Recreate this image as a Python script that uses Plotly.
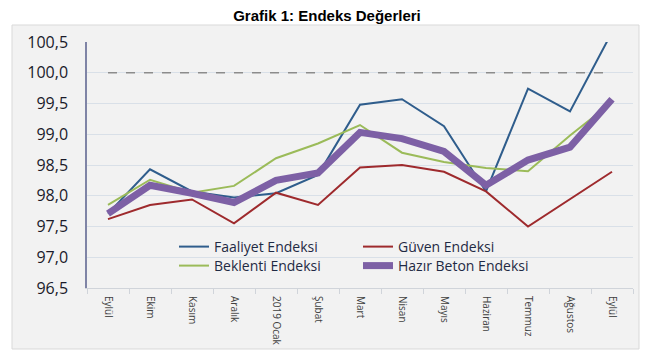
import plotly.graph_objects as go

categories = ["Eylül", "Ekim", "Kasım", "Aralık", "2019 Ocak", "Şubat", "Mart",
              "Nisan", "Mayıs", "Haziran", "Temmuz", "Ağustos", "Eylül"]
faaliyet = [97.71, 98.43, 98.07, 97.97, 98.04, 98.34, 99.48, 99.57, 99.13, 98.07, 99.74, 99.37, 100.66]
guven = [97.62, 97.85, 97.94, 97.55, 98.05, 97.85, 98.46, 98.50, 98.39, 98.07, 97.50, 97.95, 98.39]
beklenti = [97.85, 98.26, 98.05, 98.16, 98.61, 98.85, 99.15, 98.70, 98.55, 98.45, 98.40, 98.98, 99.52]
hazir_beton = [97.71, 98.17, 98.04, 97.89, 98.25, 98.37, 99.03, 98.93, 98.72, 98.17, 98.58, 98.79, 99.57]
reference = [100.0] * len(categories)
y_ticks = [96.5, 97.0, 97.5, 98.0, 98.5, 99.0, 99.5, 100.0, 100.5]

x = list(range(len(categories)))

# the page body adds an 8px offset; layout is designed in screen pixels
OFF = 8
W, H = 650, 360
L, R, T, B = 87 - OFF, 650 - 633 + OFF, 42 - OFF, 360 - 288 + OFF
pw, ph = W - L - R, H - T - B

def px_x(p):
    return (p - OFF - L) / pw

def px_y(p):
    return (H - B - (p - OFF)) / ph

fig = go.Figure()

fig.add_trace(go.Scatter(x=x, y=reference, mode="lines", showlegend=False,
                         line=dict(color="#8c8c8c", width=1.6, dash="dash"), hoverinfo="skip"))
fig.add_trace(go.Scatter(x=x, y=faaliyet, mode="lines", name="Faaliyet Endeksi",
                         line=dict(color="#2f5d8c", width=2), legend="legend"))
fig.add_trace(go.Scatter(x=x, y=guven, mode="lines", name="Güven Endeksi",
                         line=dict(color="#9e2a2d", width=2), legend="legend"))
fig.add_trace(go.Scatter(x=x, y=beklenti, mode="lines", name="Beklenti Endeksi",
                         line=dict(color="#9bbb59", width=2), legend="legend2"))
fig.add_trace(go.Scatter(x=x, y=hazir_beton, mode="lines", name="Hazır Beton Endeksi",
                         line=dict(color="#7d60a5", width=7), legend="legend2"))

legend_common = dict(orientation="h", entrywidth=139, bgcolor="rgba(0,0,0,0)",
                     font=dict(family="Open Sans", size=14, color="#1f2a44"),
                     xanchor="left", yanchor="middle", tracegroupgap=0, itemwidth=30)

fig.update_layout(
    width=W, height=H,
    margin=dict(l=L, r=R, t=T, b=B),
    paper_bgcolor="white",
    plot_bgcolor="#f2f2f2",
    separators=", ",
    title=dict(text="<b>Grafik 1: Endeks Değerleri</b>", x=(327 - OFF) / W, xanchor="center",
               y=1 - 8 / H, yanchor="middle",
               font=dict(family="Liberation Sans", size=15, color="#000000")),
    legend=dict(x=px_x(174), y=px_y(247), **legend_common),
    legend2=dict(x=px_x(174), y=px_y(266), **legend_common),
    xaxis=dict(
        range=[-0.5, len(categories) - 0.5],
        tickmode="array", tickvals=x, ticktext=categories,
        tickangle=90, ticks="", showgrid=False, zeroline=False,
        tickfont=dict(family="Open Sans", size=10, color="#404040"),
        showline=True, linecolor="#d0d4da", linewidth=1,
        minor=dict(tick0=0.5, dtick=1, ticks="outside", ticklen=5,
                   tickcolor="#d0d4da", showgrid=False),
        ticklabelstandoff=5,
    ),
    yaxis=dict(
        range=[96.5, 100.5], tickmode="array", tickvals=y_ticks,
        tickformat=".1f", showgrid=True, gridcolor="#d9e0e8", gridwidth=1,
        zeroline=False, ticks="",
        tickfont=dict(family="Open Sans", size=16, color="#1a1a2a"),
        showline=True, linecolor="#7f84a6", linewidth=1.5,
        ticklabelstandoff=14,
    ),
    shapes=[dict(type="rect", xref="paper", yref="paper", layer="below",
                 x0=px_x(12), x1=px_x(639), y0=px_y(349), y1=px_y(25),
                 fillcolor="#f2f2f2", line=dict(color="#d9d9d9", width=1))],
)

fig.write_html("out.html")
